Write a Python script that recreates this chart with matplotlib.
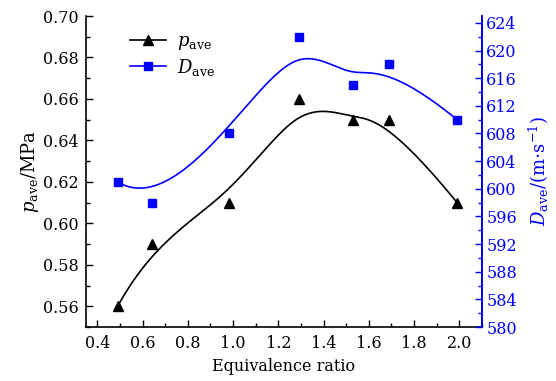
import numpy as np
import matplotlib
matplotlib.use("Agg")
import matplotlib.pyplot as plt
from matplotlib.ticker import MultipleLocator

plt.rcParams['font.family'] = ['DejaVu Serif']
plt.rcParams['mathtext.fontset'] = 'dejavuserif'

# data
ratio = [0.49, 0.64, 0.98, 1.29, 1.53, 1.69, 1.99]
p_ave = [0.56, 0.59, 0.61, 0.66, 0.65, 0.65, 0.61]
d_ave = [601, 598, 608, 622, 615, 618, 610]

BLUE = '#0000ff'


def bspline(xs, ys, k=3, n=300):
    # clamped uniform B-spline, data points used as control points
    P = np.column_stack([xs, ys]).astype(float)
    m = len(P)
    knots = np.concatenate([np.zeros(k), np.arange(m - k + 1), np.full(k, m - k)]).astype(float)
    ts = np.linspace(0, m - k, n)
    out = []
    for t in ts:
        # Cox-de Boor
        N = np.zeros(len(knots) - 1)
        for i in range(len(knots) - 1):
            if knots[i] <= t < knots[i + 1]:
                N[i] = 1.0
        if t >= knots[-1]:
            N[m - 1] = 1.0
        for d in range(1, k + 1):
            Nn = np.zeros(len(knots) - 1 - d)
            for i in range(len(Nn)):
                a = 0.0
                if knots[i + d] != knots[i]:
                    a = (t - knots[i]) / (knots[i + d] - knots[i]) * N[i]
                b = 0.0
                if knots[i + d + 1] != knots[i + 1]:
                    b = (knots[i + d + 1] - t) / (knots[i + d + 1] - knots[i + 1]) * N[i + 1]
                Nn[i] = a + b
            N = Nn
        out.append(N[:m] @ P)
    out = np.array(out)
    return out[:, 0], out[:, 1]


fig = plt.figure(figsize=(5.56, 3.81), dpi=100)
ax = fig.add_axes([0.1547, 0.1417, 0.7122, 0.8163])
ax2 = ax.twinx()

bx, by = bspline(ratio, p_ave)
ax.plot(bx, by, color='black', lw=1.2)
ax.plot(ratio, p_ave, '^', color='black', ms=6.5, ls='none')

dx, dy = bspline(ratio, d_ave)
ax2.plot(dx, dy, color=BLUE, lw=1.2)
ax2.plot(ratio, d_ave, 's', color=BLUE, ms=5.5, ls='none')

ax.set_xlim(0.35, 2.1)
ax.set_ylim(0.55, 0.70)
ax2.set_ylim(580, 625)

ax.xaxis.set_major_locator(MultipleLocator(0.2))
ax.xaxis.set_minor_locator(MultipleLocator(0.1))
ax.yaxis.set_major_locator(MultipleLocator(0.02))
ax.yaxis.set_minor_locator(MultipleLocator(0.01))
ax2.yaxis.set_major_locator(MultipleLocator(4))
ax2.yaxis.set_minor_locator(MultipleLocator(2))

ax.tick_params(which='both', direction='in', labelsize=11.5, width=1)
ax.tick_params(which='major', length=5)
ax.tick_params(which='minor', length=3)
ax.tick_params(axis='x', pad=6)
ax.tick_params(axis='y', pad=5)
ax2.tick_params(which='both', direction='in', labelsize=11.5, width=1,
                colors=BLUE, pad=3)
ax2.tick_params(which='major', length=5)
ax2.tick_params(which='minor', length=3)
ax.xaxis.set_major_formatter(plt.FuncFormatter(lambda v, _: f'{v:.1f}'))
ax.yaxis.set_major_formatter(plt.FuncFormatter(lambda v, _: f'{v:.2f}'))

for a in (ax, ax2):
    a.spines['top'].set_visible(False)
    for s in a.spines.values():
        s.set_linewidth(1.2)
ax2.spines['left'].set_visible(False)
ax2.spines['bottom'].set_visible(False)
ax2.spines['right'].set_color(BLUE)

ax.set_xlabel('Equivalence ratio', fontsize=11.5, labelpad=4)
ax.set_ylabel(r'$p_{\mathrm{ave}}$/MPa', fontsize=13, labelpad=2)
ax2.set_ylabel(r'$D_{\mathrm{ave}}$/(m$\cdot$s$^{-1}$)', fontsize=13,
               color=BLUE, rotation=90, labelpad=7)

h1, = ax.plot([], [], '-^', color='black', ms=6.5, lw=1.2)
h2, = ax.plot([], [], '-s', color=BLUE, ms=5.5, lw=1.2)
ax.legend([h1, h2], [r'$p_{\mathrm{ave}}$', r'$D_{\mathrm{ave}}$'],
          loc='upper left', bbox_to_anchor=(0.07, 1.0), frameon=False,
          fontsize=13, handlelength=2.0, labelspacing=0.25, handletextpad=0.6)

fig.savefig('out.png', dpi=100)
